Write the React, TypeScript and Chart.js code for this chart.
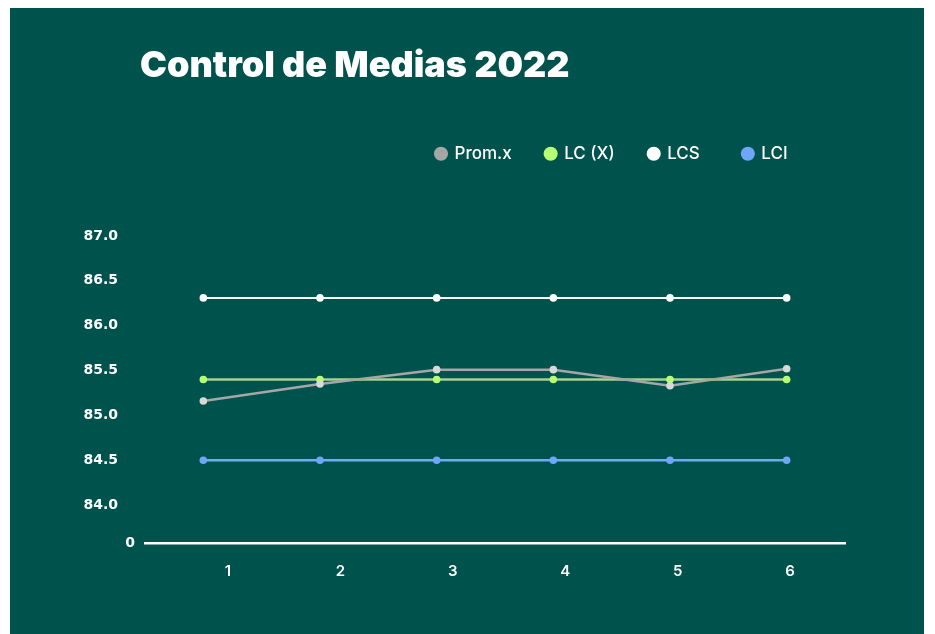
import { useEffect, useRef } from 'react';
import { Chart, registerables } from 'chart.js';

Chart.register(...registerables);

const CATEGORIES = ['1', '2', '3', '4', '5', '6'];
const PROM_X = [85.16, 85.35, 85.51, 85.51, 85.33, 85.52];
const LC_X = [85.4, 85.4, 85.4, 85.4, 85.4, 85.4];
const LCS = [86.31, 86.31, 86.31, 86.31, 86.31, 86.31];
const LCI = [84.5, 84.5, 84.5, 84.5, 84.5, 84.5];

const Y_TICKS = [84.0, 84.5, 85.0, 85.5, 86.0, 86.5, 87.0];
const Y_MIN = 83.578;
const Y_MAX = 87.711;
const Y_ZERO_LABEL = '0';
const X_LABEL_MIN = 0.2616;
const X_LABEL_MAX = 6.4894;

const TITLE = 'Control de Medias 2022';
const LEGEND_PAD = ['', '', '  ', ''];

const BG = '#00524c';

const placeBoxes = {
  id: 'placeBoxes',
  afterLayout(chart: any) {
    const t = chart.titleBlock;
    if (t) {
      t.left = 130;
    }
    const l = chart.legend;
    if (l) {
      const w = l.right - l.left;
      l.left = 392;
      l.right = 392 + w;
    }
  },
};

export default function App() {
  const ref = useRef<HTMLCanvasElement | null>(null);

  useEffect(() => {
    if (!ref.current) return;
    const series = [
      { label: 'Prom.x', data: PROM_X, line: '#a6a6a6', point: '#d9d9d9', legend: '#a6a6a6', width: 2.5 },
      { label: 'LC (X)', data: LC_X, line: '#a9d18e', point: '#b6ff73', legend: '#b6ff73', width: 2.5 },
      { label: 'LCS', data: LCS, line: '#ffffff', point: '#ffffff', legend: '#ffffff', width: 2 },
      { label: 'LCI', data: LCI, line: '#70a9f8', point: '#6fa6f7', legend: '#6fa6f7', width: 2.5 },
    ];
    const chart = new Chart(ref.current, {
      type: 'line',
      data: {
        labels: CATEGORIES,
        datasets: series.map((s) => ({
          label: s.label,
          data: s.data,
          borderColor: s.line,
          backgroundColor: s.point,
          pointBackgroundColor: s.point,
          pointBorderWidth: 0,
          pointRadius: 3.8,
          borderWidth: s.width,
          tension: 0,
          xAxisID: 'x',
          yAxisID: 'y',
        })),
      },
      options: {
        animation: false,
        responsive: false,
        maintainAspectRatio: false,
        layout: { padding: { top: 0, left: 0, right: 79, bottom: 35 } },
        plugins: {
          tooltip: { enabled: false },
          title: {
            display: true,
            text: TITLE,
            align: 'start',
            color: '#ffffff',
            font: { family: 'Inter', weight: '900', size: 36 },
            padding: { top: 37, bottom: 23 },
          },
          legend: {
            display: true,
            position: 'top',
            align: 'start',
            labels: {
              usePointStyle: true,
              pointStyle: 'circle',
              boxWidth: 10,
              boxHeight: 10,
              padding: 34,
              color: '#ffffff',
              font: { family: 'Inter', weight: '500', size: 17 },
              generateLabels: (c: any) => {
                const items = Chart.defaults.plugins.legend.labels.generateLabels(c);
                return items.map((it: any, i: number) => ({
                  ...it,
                  text: it.text + LEGEND_PAD[i],
                  fillStyle: series[i].legend,
                  strokeStyle: series[i].legend,
                  lineWidth: 0,
                }));
              },
            },
          },
        },
        scales: {
          x: {
            type: 'category',
            position: 'bottom',
            offset: true,
            grid: { display: false, drawTicks: false },
            ticks: { display: false },
            border: { display: true, color: '#ffffff', width: 2.5 },
          },
          x2: {
            type: 'linear',
            position: 'bottom',
            min: X_LABEL_MIN,
            max: X_LABEL_MAX,
            grid: { display: false, drawTicks: false },
            border: { display: false },
            afterBuildTicks: (axis: any) => {
              axis.ticks = CATEGORIES.map((c) => ({ value: Number(c) }));
            },
            ticks: {
              color: '#ffffff',
              padding: 19,
              autoSkip: false,
              maxRotation: 0,
              font: { family: 'Inter', weight: '600', size: 15 },
              callback: (v: any) => String(v),
            },
          },
          y: {
            type: 'linear',
            position: 'left',
            weight: 1,
            min: Y_MIN,
            max: Y_MAX,
            grid: { display: false, drawTicks: false },
            border: { display: false },
            afterBuildTicks: (axis: any) => {
              axis.ticks = Y_TICKS.map((v) => ({ value: v }));
            },
            afterFit: (scale: any) => {
              scale.width = 115;
            },
            ticks: {
              color: '#ffffff',
              padding: 7,
              autoSkip: false,
              font: { family: 'DejaVu Sans', weight: 'bold', size: 14 },
              callback: (v: any) => Number(v).toFixed(1),
            },
          },
          y0: {
            type: 'linear',
            position: 'left',
            weight: 0,
            min: Y_MIN,
            max: Y_MAX,
            grid: { display: false, drawTicks: false },
            border: { display: false },
            afterBuildTicks: (axis: any) => {
              axis.ticks = [{ value: Y_MIN }];
            },
            afterFit: (scale: any) => {
              scale.width = 20;
            },
            ticks: {
              color: '#ffffff',
              padding: 10,
              autoSkip: false,
              font: { family: 'DejaVu Sans', weight: 'bold', size: 14 },
              callback: () => Y_ZERO_LABEL,
            },
          },
        },
      },
      plugins: [placeBoxes],
    });
    return () => chart.destroy();
  }, []);

  return (
    <div
      style={{
        position: 'fixed',
        left: 10,
        top: 8,
        width: 914,
        height: 626,
        background: BG,
      }}
    >
      <canvas ref={ref} width={914} height={626} style={{ display: 'block', width: 914, height: 626 }} />
    </div>
  );
}
